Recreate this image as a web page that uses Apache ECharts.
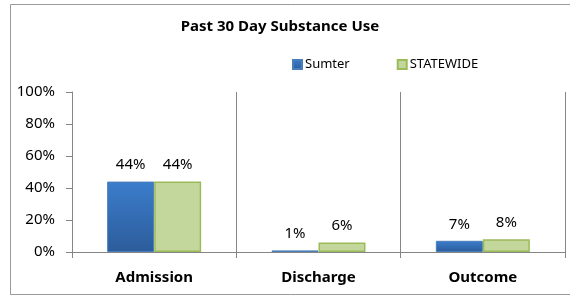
<!DOCTYPE html>
<html>
<head>
<meta charset="utf-8">
<script src="https://cdn.jsdelivr.net/npm/echarts@6/dist/echarts.min.js"></script>
<style>
  html, body { margin: 0; padding: 0; background: #fff; }
  #chart { width: 570px; height: 296px; }
</style>
</head>
<body>
<div id="chart"></div>
<script>
  // 数据
  var categories = ['Admission', 'Discharge', 'Outcome'];
  var sumter = [0.44, 0.01, 0.07];
  var statewide = [0.44, 0.06, 0.08];
  var yTicks = [0, 0.2, 0.4, 0.6, 0.8, 1];

  var font = 'Noto Sans';
  var pct = function (v) { return Math.round(v * 100) + '%'; };

  var chart = echarts.init(document.getElementById('chart'), null, { renderer: 'canvas' });
  var option = {
    backgroundColor: '#fff',
    animation: false,
    graphic: [{
      type: 'rect',
      shape: { x: 10.5, y: 4.5, width: 570, height: 290 },
      style: { fill: 'none', stroke: '#9a9a9a', lineWidth: 1 },
      silent: true
    }],
    title: {
      text: 'Past 30 Day Substance Use',
      left: 275,
      textAlign: 'center',
      top: 14,
      textStyle: { fontFamily: font, fontSize: 15, fontWeight: 'bold', color: '#000' }
    },
    legend: {
      data: ['Sumter', 'STATEWIDE'],
      left: 292,
      top: 58,
      padding: 0,
      itemWidth: 9,
      itemHeight: 9,
      itemGap: 47,
      icon: 'rect',
      textStyle: { fontFamily: font, fontSize: 13, color: '#000', padding: [0, 0, 0, -2] }
    },
    grid: { left: 72, right: 5, top: 92, bottom: 44 },
    xAxis: {
      type: 'category',
      data: categories,
      axisLine: { lineStyle: { color: '#868686', width: 1 } },
      axisTick: { show: true, length: 6, lineStyle: { color: '#868686' } },
      splitLine: { show: true, lineStyle: { color: '#868686', width: 1 } },
      axisLabel: { fontFamily: font, fontSize: 15, fontWeight: 'bold', color: '#000', margin: 18 }
    },
    yAxis: {
      type: 'value',
      min: 0,
      max: 1,
      interval: 0.2,
      axisLine: { show: true, lineStyle: { color: '#868686' } },
      axisTick: { show: true, length: 6, lineStyle: { color: '#868686' } },
      splitLine: { show: false },
      axisLabel: {
        fontFamily: font, fontSize: 15, color: '#000', margin: 17,
        formatter: function (v) { return yTicks.indexOf(v) >= 0 ? pct(v) : ''; }
      }
    },
    series: [
      {
        name: 'Sumter',
        type: 'bar',
        data: sumter,
        barWidth: 47,
        barGap: '0%',
        itemStyle: {
          color: new echarts.graphic.LinearGradient(0, 0, 0, 1, [
            { offset: 0, color: '#3b7dcc' },
            { offset: 1, color: '#2c5c9a' }
          ]),
          borderColor: '#4a7ebb',
          borderWidth: 1
        },
        label: {
          show: true, position: 'top', distance: 9,
          fontFamily: font, fontSize: 15, color: '#000',
          formatter: function (p) { return pct(p.value); }
        }
      },
      {
        name: 'STATEWIDE',
        type: 'bar',
        data: statewide,
        barWidth: 47,
        itemStyle: { color: '#c3d69b', borderColor: '#9bbb59', borderWidth: 1.5 },
        label: {
          show: true, position: 'top', distance: 9,
          fontFamily: font, fontSize: 15, color: '#000',
          formatter: function (p) { return pct(p.value); }
        }
      }
    ]
  };
  chart.setOption(option);
</script>
</body>
</html>
